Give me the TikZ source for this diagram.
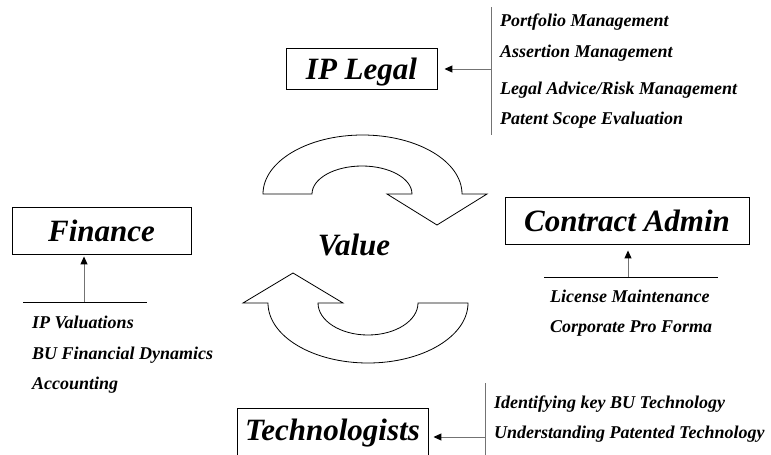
\documentclass[tikz,border=0pt]{standalone}
\usepackage{fontspec}
\setmainfont{Liberation Serif}
\usetikzlibrary{arrows.meta}

\tikzset{
  box/.style={draw, line width=0.9pt, inner sep=0pt,
    font=\bfseries\itshape\fontsize{31}{31}\selectfont,
    text height=21pt, text depth=0pt},
  item/.style={anchor=west, inner sep=0pt,
    font=\bfseries\itshape\fontsize{18}{18}\selectfont,
    text height=12pt, text depth=0pt},
  bar/.style={draw=black!55, line width=1pt},
  rule/.style={draw=black, line width=0.9pt},
  conn/.style={draw=black!55, line width=1pt,
    -{Triangle[length=8pt,width=7pt,color=black]}},
  cyclearrow/.style={draw=black, line width=0.8pt, fill=white, line join=miter}
}

\begin{document}
\begin{tikzpicture}[x=1pt,y=1pt]
\path[use as bounding box] (0,0) rectangle (771,-455);

% functional groups
\node[box, minimum width=151pt, minimum height=41pt] (legal) at (361.5,-68.5) {IP Legal};
\node[box, minimum width=179pt, minimum height=47pt] (finance) at (101.5,-230.5) {Finance};
\node[box, minimum width=244pt, minimum height=47pt] (contract) at (627,-220.5) {Contract Admin};
\node[box, minimum width=191pt, anchor=north, inner ysep=11pt, text depth=10pt] (tech) at (332.5,-408) {Technologists};

% centre label
\node[inner sep=0pt, font=\bfseries\itshape\fontsize{31}{31}\selectfont,
      text height=21pt, text depth=0pt] (value) at (354,-245) {Value};

% upper cycle arrow (pointing right/down)
\draw[cyclearrow] (263,-194) arc[start angle=180, end angle=0, x radius=99.5pt, y radius=59pt]
  -- (487,-194) -- (437,-225) -- (387,-194) -- (412,-194)
  arc[start angle=0, end angle=180, x radius=50pt, y radius=28pt] -- cycle;

% lower cycle arrow (pointing left/up)
\draw[cyclearrow] (268,-303) arc[start angle=180, end angle=360, x radius=100pt, y radius=60pt]
  -- (418,-303)
  arc[start angle=360, end angle=180, x radius=50pt, y radius=32pt]
  -- (343,-303) -- (293,-273) -- (243,-303) -- cycle;

% IP Legal tasks
\coordinate (legT) at (491,-7);
\coordinate (legB) at (491,-135);
\coordinate (legJ) at (491,-69);
\draw[bar] (legT) -- (legB);
\draw[conn, shorten >=7pt] (legJ) -- (legJ -| legal.east);
\node[item] (l1) at (500,-21) {Portfolio Management};
\node[item] (l2) at (500,-51) {Assertion Management};
\node[item] (l3) at (500,-88) {Legal Advice/Risk Management};
\node[item] (l4) at (500,-118) {Patent Scope Evaluation};

% Finance tasks
\coordinate (finL) at (23,-302);
\coordinate (finR) at (147,-302);
\coordinate (finJ) at (84,-302);
\draw[rule] (finL) -- (finR);
\draw[conn, shorten >=2pt] (finJ) -- (finJ |- finance.south);
\node[item] (f1) at (32,-322) {IP Valuations};
\node[item] (f2) at (32,-353) {BU Financial Dynamics};
\node[item] (f3) at (32,-383) {Accounting};

% Contract Admin tasks
\coordinate (conL) at (544,-277);
\coordinate (conR) at (718,-277);
\coordinate (conJ) at (628,-277);
\draw[rule] (conL) -- (conR);
\draw[conn, shorten >=6pt] (conJ) -- (conJ |- contract.south);
\node[item] (c1) at (550,-296) {License Maintenance};
\node[item] (c2) at (550,-326) {Corporate Pro Forma};

% Technologists tasks
\coordinate (tecT) at (485,-383);
\coordinate (tecB) at (485,-460);
\coordinate (tecJ) at (485,-437);
\draw[bar] (tecT) -- (tecB);
\draw[conn, shorten >=5pt] (tecJ) -- (tecJ -| tech.east);
\node[item] (t1) at (494,-402) {Identifying key BU Technology};
\node[item] (t2) at (494,-432) {Understanding Patented Technology};
\end{tikzpicture}
\end{document}
